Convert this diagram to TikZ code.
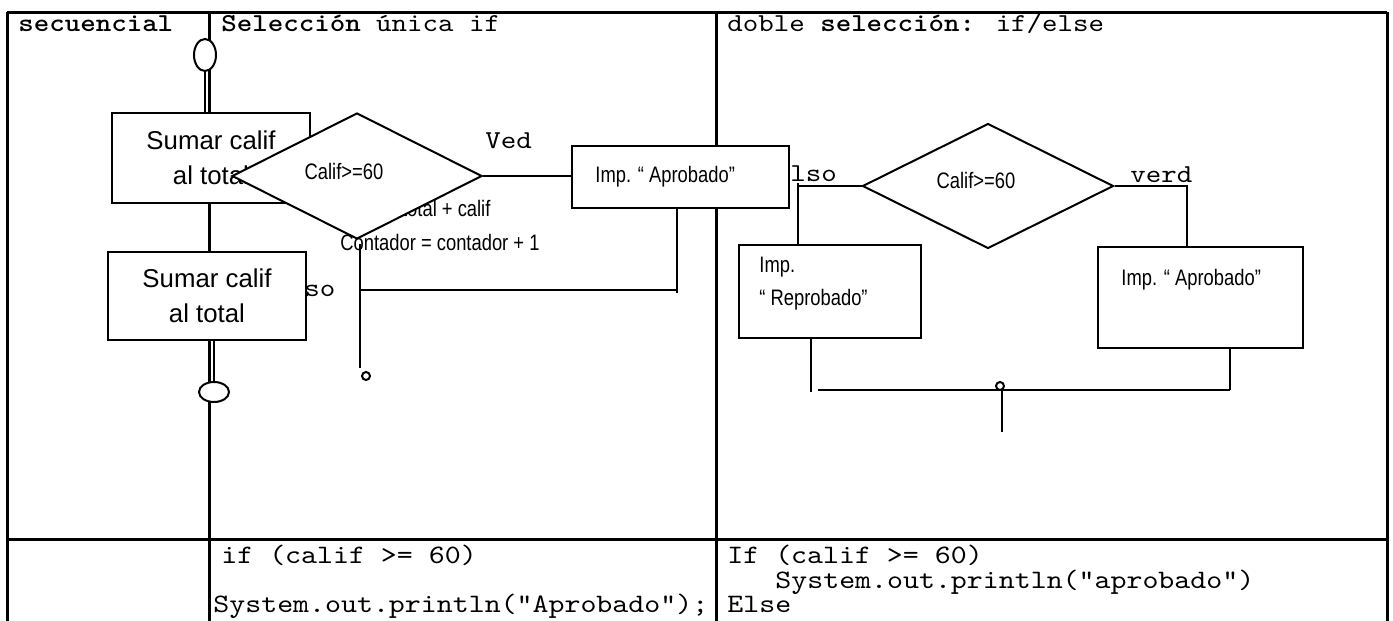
\documentclass[tikz,border=0pt]{standalone}
\usepackage{fontspec}
\setmainfont{Liberation Sans}
\newfontfamily\monofont[FakeStretch=1.143, BoldFont=lmmonolt10-bold.otf]{lmmono10-regular.otf}
\newfontfamily\narrowfont[FakeStretch=0.82]{Liberation Sans}
\usetikzlibrary{shapes.geometric}
\tikzset{
  tbl/.style={line width=1.5pt},
  flow/.style={line width=1pt},
  boxn/.style={draw, line width=1pt, fill=white, rectangle, inner sep=0pt},
  dia/.style={draw, line width=1pt, fill=white, diamond, inner sep=0pt},
  ell/.style={draw, line width=1pt, fill=white, ellipse, inner sep=0pt},
  dot/.style={draw, line width=1pt, fill=white, circle, inner sep=0pt, minimum size=4pt},
  hdr/.style={font=\monofont\fontsize{12.9}{15}\selectfont, anchor=base west, inner sep=0pt},
  code/.style={font=\monofont\fontsize{13.3}{15}\selectfont, anchor=base west, inner sep=0pt},
  sans/.style={font=\fontsize{12.9}{17.5}\selectfont, align=center},
  nar/.style={font=\narrowfont\fontsize{11.2}{16}\selectfont, inner sep=0pt},
}
\begin{document}
\begin{tikzpicture}[x=0.5pt, y=-0.5pt]
\useasboundingbox (0,0) rectangle (1393,621);
% table
\draw[tbl] (7,12) -- (1387,12);
\draw[tbl] (7,12) -- (7,621);
\draw[tbl] (1387,12) -- (1387,621);
\draw[tbl] (209.5,12) -- (209.5,621);
\draw[tbl] (716,12) -- (716,621);
\draw[tbl] (7,539) -- (1387,539);
% headers
\node[hdr] (h1) at (18,32) {\bfseries secuencial};
\node[hdr] (h2) at (221,32) {\bfseries Selección\mdseries{} única if};
\node[hdr] (h3) at (727,32) {doble \bfseries selección:\mdseries{} if/else};
% text lying behind the diamond
\node[nar, anchor=base west] (tot) at (342,216) {Total = total + calif};
% shapes
\node[boxn, sans, minimum width=99pt, minimum height=45pt] (box1) at (211,158) {Sumar calif\\al total};
\node[dia, minimum width=125pt, minimum height=63pt] (d1) at (357,176) {};
\node[boxn, sans, minimum width=99pt, minimum height=44pt] (box2) at (207,296) {Sumar calif\\al total};
\node[ell, minimum width=11pt, minimum height=16pt] (e1) at (205,55) {};
\node[ell, minimum width=15pt, minimum height=10pt] (e2) at (214,392) {};
\node[boxn, minimum width=108.5pt, minimum height=31pt] (imp1) at (680.5,177) {};
\node[boxn, minimum width=91pt, minimum height=46.5pt] (rep) at (830,291.5) {};
\node[boxn, minimum width=102.5pt, minimum height=50.5pt] (apr2) at (1200.5,297.5) {};
\node[dia, minimum width=125.5pt, minimum height=62.5pt] (d2) at (988,186) {};
\node[dot] (c1) at (366,376) {};
\node[dot] (c2) at (1000,386) {};
% texts on top
\node[hdr] (fa1) at (304,296) {so};
\node[hdr] (fa2) at (790,181) {lso};
\node[nar] (t1) at (344,171) {Calif>=60};
\node[nar] (t2) at (976,180) {Calif>=60};
\node[nar, anchor=base west] (cont) at (340,250) {Contador = contador + 1};
\node[nar, anchor=west] (ti1) at (595,177) {Imp. “ Aprobado”};
\node[nar, anchor=west] (ti2) at (759,267) {Imp.};
\node[nar, anchor=west] (ti3) at (759,300) {“ Reprobado”};
\node[nar, anchor=west] (ti4) at (1121,280) {Imp. “ Aprobado”};
\node[hdr] (ved) at (485,148) {Ved};
\node[hdr] (verd) at (1130,182) {verd};
% connectors: sequence
\coordinate (s0) at (204.5,0);
\coordinate (s1) at (209.5,0);
\draw[flow] (e1.south -| s0) -- (s0 |- box1.north);
\draw[flow] (box1.south -| s1) -- (s1 |- box2.north);
\draw[flow] (e2.north) -- (e2.north |- box2.south);
% connectors: single if
\coordinate (j1) at (677,290);
\coordinate (j2) at (360,290);
\coordinate (end1) at (360,368);
\draw[flow] (d1.east) -- (d1.east -| imp1.west);
\draw[flow] (j1 |- imp1.south) -- ([yshift=-1.5pt]j1);
\draw[flow] (j2) -- (j1);
\draw[flow] ([yshift=-2pt]d1.south -| j2) -- (end1);
% connectors: double if
\coordinate (k1) at (798,188);
\coordinate (k2) at (1187,186);
\coordinate (k3) at (811,392);
\coordinate (k4) at (818,390);
\coordinate (k5) at (1230,390);
\coordinate (k6) at (1002,432);
\draw[flow] (d2.west) -- (d2.west -| k1);
\draw[flow] ([yshift=1.5pt]d2.west -| k1) -- (k1 |- rep.north);
\draw[flow] (d2.east) -- (d2.east -| k2) -- (k2 |- apr2.north);
\draw[flow] (k3 |- rep.south) -- (k3);
\draw[flow] (k4) -- (k5);
\draw[flow] (k5 |- apr2.south) -- (k5);
\draw[flow] (c2.south -| k6) -- (k6);
% code row
\node[code] (p1) at (221,563) {if (calif >= 60)};
\node[code] (p2) at (213,612) {System.out.println(“Aprobado”);};
\node[code] (p3) at (727,563) {If (calif >= 60)};
\node[code] (p4) at (775,588) {System.out.println(“aprobado”)};
\node[code] (p5) at (727,612) {Else};
\end{tikzpicture}
\end{document}
